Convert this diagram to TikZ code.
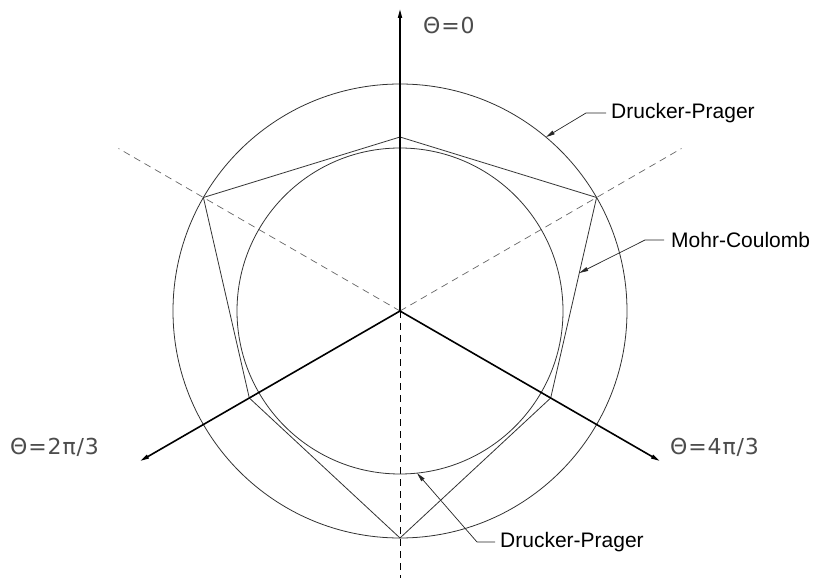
\documentclass[tikz,border=0pt]{standalone}
\usepackage{fontspec}
\setmainfont{Liberation Sans}
\newfontfamily\thetafont[LetterSpace=4]{DejaVu Sans}
\usetikzlibrary{arrows.meta,positioning,calc}

\begin{document}
\begin{tikzpicture}[x=1pt,y=1pt,>={Stealth[length=9pt,width=4pt,inset=0pt]},
   axis/.style={line width=1.6pt,->},
   guide/.style={dashed,dash pattern=on 7pt off 5pt,line width=0.7pt},
   curve/.style={line width=0.8pt,draw=black!80},
   lead/.style={line width=0.7pt,draw=black!85,<-},
   tag/.style={font=\fontsize{21}{25}\selectfont,inner sep=0pt,anchor=west},
   thetalbl/.style={font=\thetafont\fontsize{22}{26}\selectfont,text=black!70,inner sep=0pt,anchor=west}]
  \useasboundingbox (-400,-267) rectangle (432,311);
  \coordinate (O) at (0,0);
  % hexagon corners
  \foreach \n/\a/\r in {v1/90/174,v2/150/227,v3/210/174,v4/270/227,v5/330/174,v6/30/227}
    \coordinate (\n) at (\a:\r);
  \draw[guide,draw=black!60] (O) -- (150:325);
  \draw[guide,draw=black!60] (O) -- (30:325);
  \draw[guide] (O) -- (0,-267);
  \draw[curve] (O) circle[radius=227];
  \draw[curve] (O) circle[radius=163];
  \draw[curve] (v1) -- (v2) -- (v3) -- (v4) -- (v5) -- (v6) -- cycle;
  \foreach \a/\r in {90/302,210/300,330/300}{\draw[axis] (O) -- (\a:\r);}
  \node[thetalbl] (t0) at (23,286) {Θ=0};
  \node[thetalbl] (t2) at (-390,-136) {Θ=2π/3};
  \node[thetalbl] (t4) at (270,-136) {Θ=4π/3};
  % leaders
  \node[tag] (dpout) at (211,198) {Drucker-Prager};
  \node[tag] (mc) at (271,71) {Mohr-Coulomb};
  \node[tag] (dpin) at (100,-231) {Drucker-Prager};
  \coordinate (dpoutTip) at (50:227);
  \coordinate (mcTip) at ($(v6)!0.3766!(v5)$);
  \coordinate (dpinTip) at (-84:163);
  \draw[lead] (dpoutTip) -- ($(dpout.west)+(-25,0)$) -- ($(dpout.west)+(-5,0)$);
  \draw[lead] (mcTip) -- ($(mc.west)+(-26,0)$) -- ($(mc.west)+(-7,0)$);
  \draw[lead] (dpinTip) -- ($(dpin.west)+(-23,0)$) -- ($(dpin.west)+(-5,0)$);
\end{tikzpicture}
\end{document}
